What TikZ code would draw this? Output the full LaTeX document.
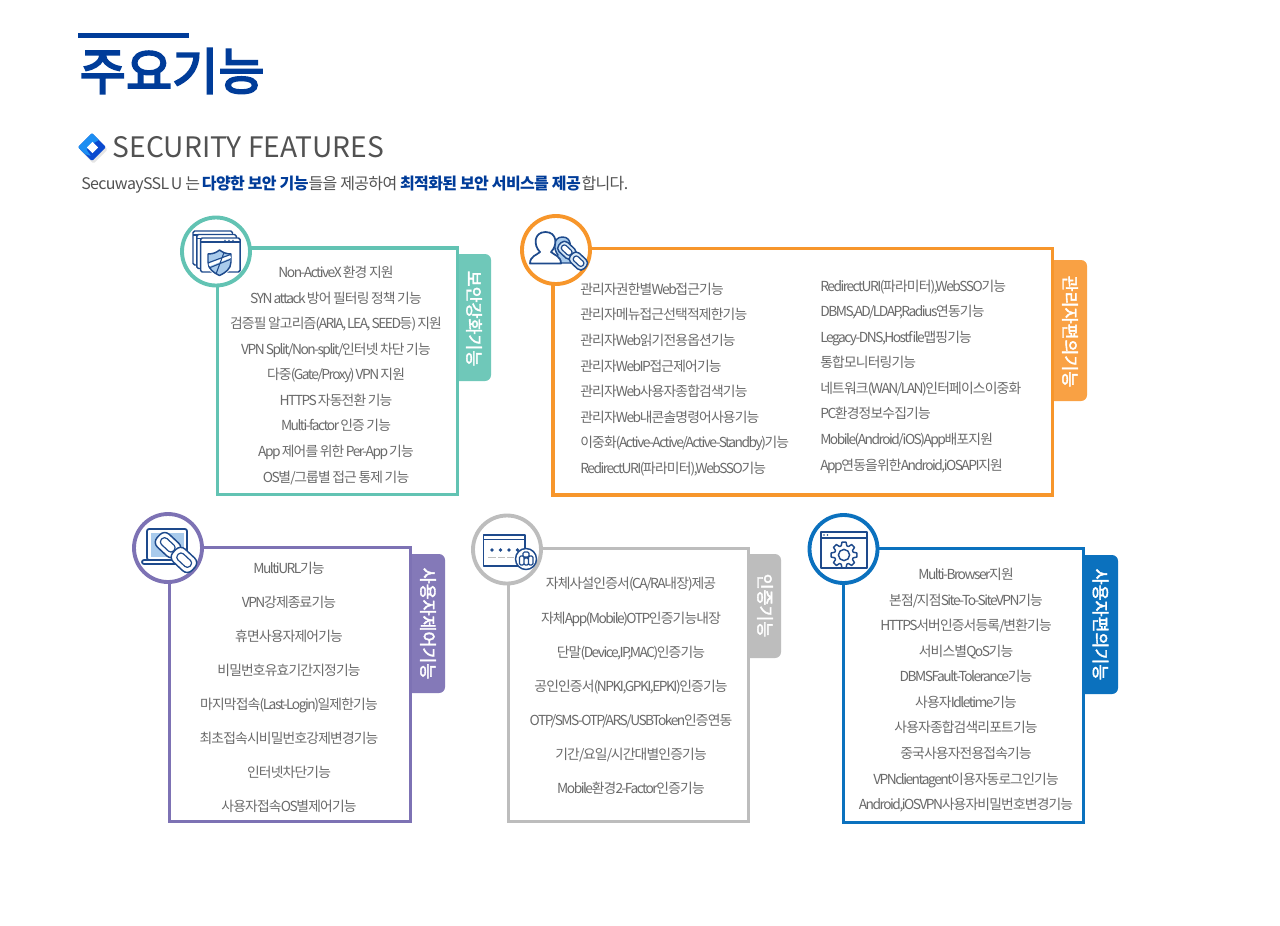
\documentclass[tikz,border=0pt]{standalone}
\usepackage{fontspec}
\setmainfont{Noto Sans CJK KR}
\newfontfamily\tight[LetterSpace=-6,WordSpace=0.7]{Noto Sans CJK KR}
\newfontfamily\tightlat[LetterSpace=-11,WordSpace=0.7]{Noto Sans CJK KR}
\newfontfamily\tagfont[LetterSpace=-4]{Noto Sans CJK KR}
\newfontfamily\titlef[FakeBold=4,LetterSpace=0.5]{Noto Sans CJK KR}
\newfontfamily\tabf[FakeBold=2.2]{Noto Sans CJK KR}
% Latin runs in the lists are set tighter than Hangul, as in the picture
\newcommand{\hanrun}{\tight\fontsize{10.35pt}{12pt}\selectfont}
\newcommand{\latrun}{\tightlat\fontsize{10.35pt}{12pt}\selectfont}
\newcommand{\listfont}{\XeTeXinterchartokenstate=1 \hanrun}
\newcount\cc
\cc=33
\loop\ifnum\cc<127 \XeTeXcharclass\cc=1 \advance\cc by 1 \repeat
\XeTeXinterchartoks 0 1 = {\latrun\kern-.6pt }
\XeTeXinterchartoks 4095 1 = {\latrun}
\XeTeXinterchartoks 1 0 = {\hanrun\kern-1pt }
\XeTeXinterchartoks 4095 0 = {\hanrun}
\definecolor{navy}{HTML}{003C99}
\definecolor{ink}{HTML}{1E4A8C}
\definecolor{sky}{HTML}{A9CBEC}
\definecolor{grtext}{HTML}{6A6A6A}
\definecolor{cteal}{HTML}{62C3B3}
\definecolor{corange}{HTML}{F7962B}
\definecolor{tabor}{HTML}{F9A144}
\definecolor{cpurple}{HTML}{7D72B4}
\definecolor{cgray}{HTML}{BDBDBD}
\definecolor{cblue}{HTML}{0B71BE}
\definecolor{dia1}{HTML}{1C8EF2}
\definecolor{dia2}{HTML}{0A49CF}
\tikzset{
  x=.75pt,y=-.75pt,
  ftc/.style={font=\listfont,text=grtext,inner sep=0pt,text height=9.5pt,text depth=2pt,anchor=center},
  ftl/.style={ftc,anchor=west},
  panel/.style={draw=#1,line width=2.4pt,fill=white,inner sep=0pt,outer sep=0pt,anchor=north west},
  badge/.style={circle,draw=#1,line width=2.9pt,fill=white,minimum size=51pt,inner sep=0pt},
  tabtext/.style={font=\tabf\fontsize{13pt}{15pt}\selectfont,text=white,rotate=-90,inner sep=0pt},
  icon/.style={draw=ink,line width=1pt,line join=round},
}
\newcommand{\tabshape}[5]{% x1 y1 x2 y2 colour
  \fill[#5,rounded corners=4.5pt] (#1-6,#2) -- (#3,#2) -- (#3,#4) -- (#1-6,#4) -- cycle;}
\newcommand{\chainicon}[5]{% x y angle scale fill
  \begin{scope}[shift={(#1,#2)},rotate=#3]
    \draw[icon,fill=#5,rounded corners={3.4pt*#4},line width=1.1pt] ({-17*#4},{-6*#4}) rectangle ({1*#4},{6*#4});
    \draw[icon,fill=white,rounded corners={1.8pt*#4},line width=.9pt] ({-14*#4},{-2.8*#4}) rectangle ({-2.5*#4},{2.8*#4});
    \draw[icon,fill=#5,rounded corners={3.4pt*#4},line width=1.1pt] ({-2*#4},{-6*#4}) rectangle ({16*#4},{6*#4});
    \draw[icon,fill=white,rounded corners={1.8pt*#4},line width=.9pt] ({1.5*#4},{-2.8*#4}) rectangle ({13*#4},{2.8*#4});
  \end{scope}}
\begin{document}
\begin{tikzpicture}
\useasboundingbox (0,0) rectangle (1280,925);
\fill[white] (0,0) rectangle (1280,925);

% heading
\fill[navy] (78,33) rectangle (189,38);
\node[anchor=west,inner sep=0pt,text=navy,font=\titlef\fontsize{37.5pt}{40pt}\selectfont] (title) at (79.5,71) {주요기능};
% diamond bullet
\fill[black!10,rounded corners=1pt] (93.5,135) -- (107.5,149.5) -- (93.5,163.5) -- (79.5,149.5) -- cycle;
\fill[dia2,rounded corners=1pt] (92,133) -- (106,147) -- (92,161) -- (78,147) -- cycle;
\fill[dia1,rounded corners=.6pt] (92,133) -- (99,140) -- (92,144) -- (86.5,149.5) -- (91,156) -- (85,154) -- (78,147) -- cycle;
\fill[white] (92.5,141.8) -- (98,147.5) -- (92.5,153) -- (87,147.5) -- cycle;
\node[anchor=west,inner sep=0pt,text=black!68,font=\fontsize{21.15pt}{24pt}\selectfont] (subtitle) at (112.5,147) {SECURITY FEATURES};
\node[anchor=west,inner sep=0pt,text=black!68,font=\tagfont\fontsize{12pt}{14pt}\selectfont] (intro) at (81,185)
  {SecuwaySSL\kern-1pt{} U 는 \kern-.8pt\textcolor{navy}{\bfseries 다양한 보안 기능}들을 제공하여 \textcolor{navy}{\bfseries 최적화된 보안 서비스를 제공}\kern.6pt{}합니다.};

% tabs
\tabshape{458}{254}{491}{381}{cteal!92!white}
\tabshape{1053}{260}{1087}{401}{tabor}
\tabshape{411}{554}{445}{693}{cpurple!95!white}
\tabshape{748}{554}{781}{658}{cgray}
\tabshape{1083}{555}{1118}{694}{cblue}

% panels
\node[panel=cteal,minimum width=180.1pt,minimum height=185pt] (boxsec) at (217.5,248) {};
\node[panel=corange,minimum width=374.6pt,minimum height=184.9pt] (boxadm) at (553,248.5) {};
\node[panel=cpurple,minimum width=181pt,minimum height=205.8pt] (boxctl) at (169.3,547.3) {};
\node[panel=cgray,minimum width=180pt,minimum height=205pt] (boxaut) at (508.3,548.3) {};
\node[panel=cblue,minimum width=180pt,minimum height=205.8pt] (boxcon) at (843.3,548.3) {};

% badges
\node[badge=cteal] (cirsec) at (216,251.5) {};
\node[badge=corange] (ciradm) at (556,250) {};
\node[badge=cpurple] (circtl) at (168,548) {};
\node[badge=cgray] (ciraut) at (507,549.5) {};
\node[badge=cblue] (circon) at (843.5,549) {};

% tab labels
\node[tabtext] (tabsec) at (474,318.5) {보안강화기능};
\node[tabtext] (tabadm) at (1070,331.5) {관리자편의기능};
\node[tabtext] (tabctl) at (428,623.5) {사용자제어기능};
\node[tabtext] (tabaut) at (765,605.5) {인증기능};
\node[tabtext] (tabcon) at (1100.5,624.5) {사용자편의기능};

% icon: windows + shield
\foreach \d in {0,1,2}{
  \draw[icon,fill=white,rounded corners=1.2pt,line width=1.1pt] (193+3.8*\d,231+3.5*\d) rectangle (232.5+3.8*\d,265+3.5*\d);
  \draw[icon,line width=1.1pt] (193+3.8*\d,235+3.5*\d) -- (232.5+3.8*\d,235+3.5*\d);
}
\fill[ink] (225,240.4) circle[radius=.8] (229,240.4) circle[radius=.8] (233,240.4) circle[radius=.8];
\draw[white,line width=2.4pt] (208,254) .. controls (214,254) and (217,252) .. (219.5,250) .. controls (222,252) and (226,254) .. (231,254) -- (231,262) .. controls (231,269) and (225,273) .. (219.5,275.5) .. controls (214,273) and (208,269) .. (208,262) -- cycle;
\draw[icon,fill=sky,line width=1.1pt] (208,254) .. controls (214,254) and (217,252) .. (219.5,250) .. controls (222,252) and (226,254) .. (231,254) -- (231,262) .. controls (231,269) and (225,273) .. (219.5,275.5) .. controls (214,273) and (208,269) .. (208,262) -- cycle;
\draw[white,line width=2pt] (209,265) -- (230.5,256.5);
\draw[ink,line width=.8pt] (209,262.5) -- (230.5,254.5) (209,268) -- (230,259.5) (224,252.5) -- (216,274);

% icon: users + chain
\draw[icon,fill=sky,line width=1.1pt] (550,263) .. controls (552,258) and (556,257) .. (558,255) .. controls (553,249) and (553,237) .. (562.5,237) .. controls (572,237) and (572,249) .. (567,255) .. controls (570,257) and (576,258) .. (577,263) -- cycle;
\draw[icon,fill=white,line width=1.3pt] (530,263.5) .. controls (530,256) and (537,255) .. (540,252) .. controls (533,245) and (534,232) .. (545.5,232) .. controls (557,232) and (558,245) .. (551,252) .. controls (554,255) and (561,256) .. (561,263.5) -- cycle;
\chainicon{573}{256}{-43}{1.05}{sky!45!white}

% icon: laptop + chain
\draw[icon,fill=white,rounded corners=1.5pt,line width=1.3pt] (147,529) rectangle (187,560);
\fill[sky] (151,533) rectangle (184,556.5);
\draw[icon,fill=white,rounded corners=1.5pt,line width=1.3pt] (142,560) rectangle (192,564);
\chainicon{176.5}{553}{-43}{1.45}{white}

% icon: card
\draw[icon,fill=white,line width=1.1pt] (483.5,535) rectangle (525,566);
\draw[icon,line width=1.1pt] (483.5,539.5) -- (525,539.5);
\fill[ink] (492,550) circle[radius=1.8] (500.5,550) circle[radius=1.8] (509,550) circle[radius=1.8] (517.5,550) circle[radius=1.8];
\draw[black!25,line width=1pt] (488,557.5) -- (496,557.5) (498,557.5) -- (505,557.5) (507,557.5) -- (514,557.5);
\draw[icon,fill=white,line width=1.1pt] (526,559) circle[radius=10.5];
\draw[icon,rounded corners=1pt,line width=.9pt] (523,552) rectangle (529,557) (519.5,556) rectangle (524,565) (524,558) rectangle (528.5,565) (528.5,556) rectangle (533,565);

% icon: window + gear
\draw[icon,fill=white,line width=1.2pt] (821,532) rectangle (867,568);
\draw[icon,line width=1.2pt] (821,538) -- (867,538);
\fill[ink] (824,535) circle[radius=.9] (827.5,535) circle[radius=.9];
\draw[icon,fill=white,line width=1.1pt] (844,555) ++(0:13)
  \foreach \a in {0,45,...,315}{
    -- ({844+13*cos(\a+9)},{555+13*sin(\a+9)}) -- ({844+9.6*cos(\a+17)},{555+9.6*sin(\a+17)})
    -- ({844+9.6*cos(\a+28)},{555+9.6*sin(\a+28)}) -- ({844+13*cos(\a+36)},{555+13*sin(\a+36)})
  } -- cycle;
\draw[icon,line width=1.1pt] (844,555) circle[radius=5.6];

% security
\node[ftc] (s1) at (336,272) {Non-ActiveX 환경 지원};
\node[ftc] (s2) at (336,298) {SYN attack 방어 필터링 정책 기능};
\node[ftc] (s3) at (336,323.5) {검증필 알고리즘(ARIA, LEA, SEED등) 지원};
\node[ftc] (s4) at (336,349) {VPN Split/Non-split/인터넷 차단 기능};
\node[ftc] (s5) at (336,374.5) {다중(Gate/Proxy) VPN 지원};
\node[ftc] (s6) at (336,400) {HTTPS 자동전환 기능};
\node[ftc] (s7) at (336,425.5) {Multi-factor 인증 기능};
\node[ftc] (s8) at (336,451) {App 제어를 위한 Per-App 기능};
\node[ftc] (s9) at (336,477) {OS별/그룹별 접근 통제 기능};

% admin left
\node[ftl] (a1) at (580,289) {관리자권한별Web접근기능};
\node[ftl] (a2) at (580,314.5) {관리자메뉴접근선택적제한기능};
\node[ftl] (a3) at (580,340) {관리자Web읽기전용옵션기능};
\node[ftl] (a4) at (580,366) {관리자WebIP접근제어기능};
\node[ftl] (a5) at (580,391) {관리자Web사용자종합검색기능};
\node[ftl] (a6) at (580,417) {관리자Web내콘솔명령어사용기능};
\node[ftl] (a7) at (580,442.5) {이중화(Active-Active/Active-Standby)기능};
\node[ftl] (a8) at (580,468) {RedirectURI(파라미터),WebSSO기능};
% admin right
\node[ftl] (b1) at (820,286) {RedirectURI(파라미터),WebSSO기능};
\node[ftl] (b2) at (820,311.5) {DBMS,AD/LDAP,Radius연동기능};
\node[ftl] (b3) at (820,337) {Legacy-DNS,Hostfile맵핑기능};
\node[ftl] (b4) at (820,362.5) {통합모니터링기능};
\node[ftl] (b5) at (820,388) {네트워크(WAN/LAN)인터페이스이중화};
\node[ftl] (b6) at (820,413.5) {PC환경정보수집기능};
\node[ftl] (b7) at (820,439) {Mobile(Android/iOS)App배포지원};
\node[ftl] (b8) at (820,465) {App연동을위한Android,iOSAPI지원};

% user control
\node[ftc] (c1) at (289,568) {MultiURL기능};
\node[ftc] (c2) at (289,602) {VPN강제종료기능};
\node[ftc] (c3) at (289,636) {휴면사용자제어기능};
\node[ftc] (c4) at (289,670) {비밀번호유효기간지정기능};
\node[ftc] (c5) at (289,704) {마지막접속(Last-Login)일제한기능};
\node[ftc] (c6) at (289,738) {최초접속시비밀번호강제변경기능};
\node[ftc] (c7) at (289,772) {인터넷차단기능};
\node[ftc] (c8) at (289,806) {사용자접속OS별제어기능};

% authentication
\node[ftc] (d1) at (631,583) {자체사설인증서(CA/RA내장)제공};
\node[ftc] (d2) at (631,618) {자체App(Mobile)OTP인증기능내장};
\node[ftc] (d3) at (631,652) {단말(Device,IP,MAC)인증기능};
\node[ftc] (d4) at (631,686) {공인인증서(NPKI,GPKI,EPKI)인증기능};
\node[ftc] (d5) at (631,720) {OTP/SMS-OTP/ARS/USBToken인증연동};
\node[ftc] (d6) at (631,754) {기간/요일/시간대별인증기능};
\node[ftc] (d7) at (631,788) {Mobile환경2-Factor인증기능};

% user convenience
\node[ftc] (e1) at (966,574) {Multi-Browser지원};
\node[ftc] (e2) at (966,600) {본점/지점Site-To-SiteVPN기능};
\node[ftc] (e3) at (966,625) {HTTPS서버인증서등록/변환기능};
\node[ftc] (e4) at (966,651) {서비스별QoS기능};
\node[ftc] (e5) at (966,676) {DBMSFault-Tolerance기능};
\node[ftc] (e6) at (966,702) {사용자Idletime기능};
\node[ftc] (e7) at (966,727) {사용자종합검색리포트기능};
\node[ftc] (e8) at (966,753) {중국사용자전용접속기능};
\node[ftc] (e9) at (966,779) {VPNclientagent이용자동로그인기능};
\node[ftc] (e10) at (966,804) {Android,iOSVPN사용자비밀번호변경기능};
\end{tikzpicture}
\end{document}
